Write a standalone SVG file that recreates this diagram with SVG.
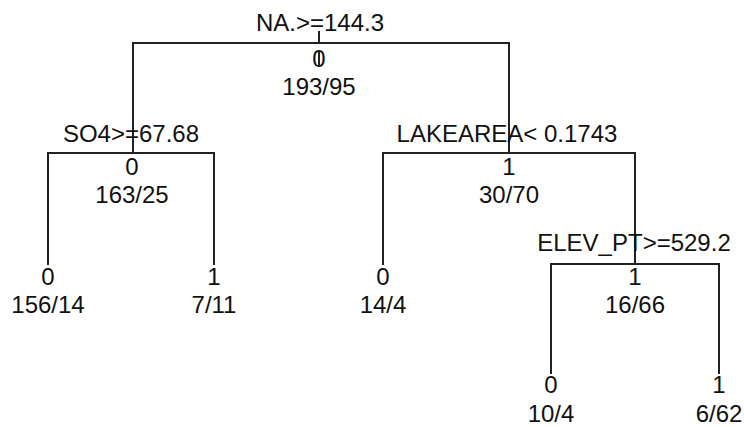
<svg xmlns="http://www.w3.org/2000/svg" width="744" height="427" viewBox="0 0 744 427">
<style>
text{font-family:"Liberation Sans",Arial,sans-serif;font-size:24px;fill:#111;text-anchor:middle}
.c{fill:none;stroke:#222;stroke-width:2;stroke-linecap:square}
</style>
<rect width="744" height="427" fill="#fff"/>
<g id="connectors" class="c">
<path class="c" d="M319,32V43M133,43H509"/>
<path class="c" d="M133,43V153M48,153H214M48,153V264M214,153V264"/>
<path class="c" d="M509,43V153M383,153H635M383,153V264M635,153V264"/>
<path class="c" d="M551,264H719M551,264V373M719,264V373"/>
</g>
<g id="node-root">
<text x="320" y="31">NA.&gt;=144.3</text>
<text x="319" y="67">0</text>
<line x1="319" y1="51" x2="319" y2="66" stroke="#222" stroke-width="2"/>
<text x="319" y="95">193/95</text>
</g>
<g id="node-so4">
<text x="131" y="142">SO4&gt;=67.68</text>
<text x="132" y="175">0</text>
<text x="132" y="203">163/25</text>
</g>
<g id="node-leaf-156-14">
<text x="48" y="285">0</text>
<text x="48" y="313">156/14</text>
</g>
<g id="node-leaf-7-11">
<text x="214" y="285">1</text>
<text x="214" y="313">7/11</text>
</g>
<g id="node-lakearea">
<text x="507" y="142">LAKEAREA&lt; 0.1743</text>
<text x="509" y="175">1</text>
<text x="509" y="203">30/70</text>
</g>
<g id="node-leaf-14-4">
<text x="383" y="285">0</text>
<text x="383" y="313">14/4</text>
</g>
<g id="node-elev">
<text x="634" y="251">ELEV_PT&gt;=529.2</text>
<text x="635" y="285">1</text>
<text x="635" y="313">16/66</text>
</g>
<g id="node-leaf-10-4">
<text x="551" y="393">0</text>
<text x="551" y="422">10/4</text>
</g>
<g id="node-leaf-6-62">
<text x="719" y="393">1</text>
<text x="719" y="422">6/62</text>
</g>
</svg>
